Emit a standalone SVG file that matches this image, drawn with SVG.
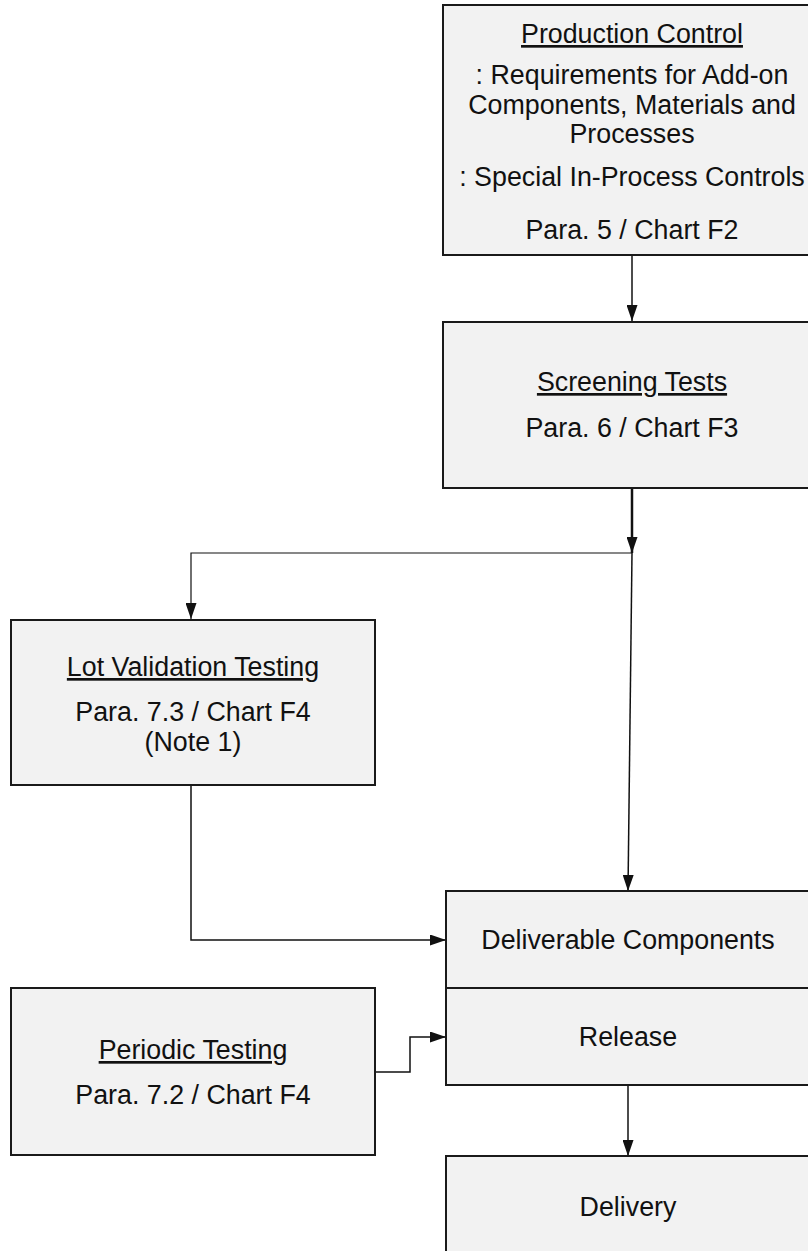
<svg xmlns="http://www.w3.org/2000/svg" width="808" height="1251" viewBox="0 0 808 1251">
<style>
.box{fill:#f2f2f2;stroke:#1a1a1a;stroke-width:2}
.t{font-family:"Liberation Sans",Arial,sans-serif;font-size:26.8px;fill:#111;text-anchor:middle}
.u{text-decoration:underline}
.c{fill:none;stroke:#111;stroke-width:1.5}
</style>
<defs>
<marker id="ah" viewBox="0 0 16 11" refX="16" refY="5.5" markerWidth="16" markerHeight="11" markerUnits="userSpaceOnUse" orient="auto">
<path d="M0,0 L16,5.5 L0,11 Z" fill="#111"/>
</marker>
</defs>
<g id="connectors">
<line class="c" x1="632" y1="255" x2="632" y2="321" marker-end="url(#ah)"/>
<line class="c" x1="632" y1="488" x2="632" y2="553" style="stroke-width:2.5" marker-end="url(#ah)"/>
<polyline class="c" points="632,553 191,553 191,619" style="stroke-width:1.2" marker-end="url(#ah)"/>
<line class="c" x1="632" y1="553" x2="628" y2="891" marker-end="url(#ah)"/>
<polyline class="c" points="191,785 191,940 446,940" marker-end="url(#ah)"/>
<polyline class="c" points="375,1072 410,1072 410,1037 446,1037" marker-end="url(#ah)"/>
<line class="c" x1="628" y1="1085" x2="628" y2="1156" marker-end="url(#ah)"/>
</g>
<g id="production-control">
<rect class="box" x="443" y="5" width="380" height="250"/>
<text class="t u" x="632" y="43">Production Control</text>
<text class="t" x="632" y="84">: Requirements for Add-on</text>
<text class="t" x="632" y="114">Components, Materials and</text>
<text class="t" x="632" y="143">Processes</text>
<text class="t" x="632" y="186">: Special In-Process Controls</text>
<text class="t" x="632" y="239">Para. 5 / Chart F2</text>
</g>
<g id="screening-tests">
<rect class="box" x="443" y="322" width="380" height="166"/>
<text class="t u" x="632" y="391">Screening Tests</text>
<text class="t" x="632" y="437">Para. 6 / Chart F3</text>
</g>
<g id="lot-validation">
<rect class="box" x="11" y="620" width="364" height="165"/>
<text class="t u" x="193" y="676">Lot Validation Testing</text>
<text class="t" x="193" y="721">Para. 7.3 / Chart F4</text>
<text class="t" x="193" y="751">(Note 1)</text>
</g>
<g id="deliverable-release">
<rect class="box" x="446" y="891" width="378" height="194"/>
<line x1="446" y1="988" x2="824" y2="988" stroke="#1a1a1a" stroke-width="2"/>
<text class="t" x="628" y="949">Deliverable Components</text>
<text class="t" x="628" y="1046">Release</text>
</g>
<g id="periodic-testing">
<rect class="box" x="11" y="988" width="364" height="167"/>
<text class="t u" x="193" y="1059">Periodic Testing</text>
<text class="t" x="193" y="1104">Para. 7.2 / Chart F4</text>
</g>
<g id="delivery">
<rect class="box" x="446" y="1156" width="378" height="110"/>
<text class="t" x="628" y="1216">Delivery</text>
</g>
</svg>
